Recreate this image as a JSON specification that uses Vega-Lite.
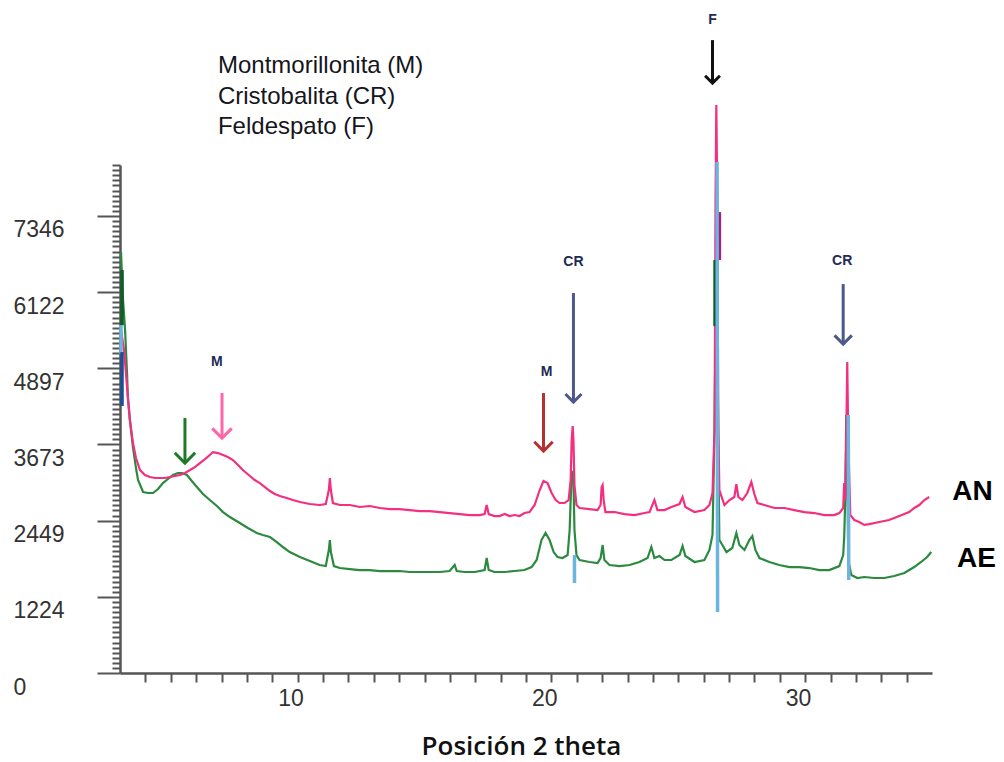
{
  "$schema": "https://vega.github.io/schema/vega-lite/v6.json",
  "width": 812,
  "height": 508,
  "autosize": "none",
  "padding": {"left": 120, "top": 165, "right": 72, "bottom": 89},
  "background": "white",
  "config": {"view": {"stroke": null}},
  "datasets": {
    "ae": [{"x":3.04,"y":6765},{"x":3.12,"y":5994},{"x":3.2,"y":5512},{"x":3.28,"y":4789},{"x":3.31,"y":4435},{"x":3.39,"y":4066},{"x":3.51,"y":3632},{"x":3.63,"y":3294},{"x":3.71,"y":3102},{"x":3.91,"y":2909},{"x":4.1,"y":2893},{"x":4.3,"y":2893},{"x":4.5,"y":2957},{"x":4.69,"y":3053},{"x":4.89,"y":3118},{"x":5.09,"y":3182},{"x":5.28,"y":3214},{"x":5.44,"y":3214},{"x":5.64,"y":3182},{"x":5.83,"y":3085},{"x":6.03,"y":2989},{"x":6.27,"y":2877},{"x":6.54,"y":2780},{"x":6.82,"y":2684},{"x":7.06,"y":2587},{"x":7.33,"y":2507},{"x":7.72,"y":2411},{"x":8.04,"y":2330},{"x":8.39,"y":2250},{"x":8.63,"y":2218},{"x":8.91,"y":2186},{"x":9.18,"y":2105},{"x":9.42,"y":2025},{"x":9.69,"y":1944},{"x":10.09,"y":1864},{"x":10.48,"y":1800},{"x":10.87,"y":1736},{"x":11.11,"y":1719},{"x":11.23,"y":1977},{"x":11.27,"y":2137},{"x":11.31,"y":1944},{"x":11.43,"y":1719},{"x":11.66,"y":1687},{"x":12.06,"y":1671},{"x":12.45,"y":1655},{"x":12.84,"y":1655},{"x":13.24,"y":1639},{"x":13.63,"y":1639},{"x":14.02,"y":1639},{"x":14.42,"y":1623},{"x":14.81,"y":1623},{"x":15.2,"y":1623},{"x":15.6,"y":1623},{"x":15.99,"y":1639},{"x":16.19,"y":1736},{"x":16.27,"y":1639},{"x":16.58,"y":1623},{"x":16.98,"y":1623},{"x":17.37,"y":1655},{"x":17.45,"y":1848},{"x":17.53,"y":1655},{"x":17.76,"y":1623},{"x":18.16,"y":1623},{"x":18.55,"y":1639},{"x":18.94,"y":1655},{"x":19.22,"y":1703},{"x":19.42,"y":1816},{"x":19.61,"y":2137},{"x":19.77,"y":2250},{"x":19.93,"y":2137},{"x":20.09,"y":1944},{"x":20.24,"y":1864},{"x":20.44,"y":1848},{"x":20.64,"y":1896},{"x":20.72,"y":2298},{"x":20.76,"y":2780},{"x":20.8,"y":3214},{"x":20.84,"y":3230},{"x":20.87,"y":3102},{"x":20.91,"y":2298},{"x":20.99,"y":1896},{"x":21.11,"y":1816},{"x":21.5,"y":1784},{"x":21.82,"y":1768},{"x":21.94,"y":1848},{"x":22.02,"y":2057},{"x":22.09,"y":1816},{"x":22.29,"y":1736},{"x":22.69,"y":1719},{"x":23.08,"y":1736},{"x":23.47,"y":1784},{"x":23.79,"y":1848},{"x":23.94,"y":2025},{"x":24.06,"y":1848},{"x":24.26,"y":1880},{"x":24.46,"y":1816},{"x":24.73,"y":1816},{"x":25.05,"y":1896},{"x":25.17,"y":2041},{"x":25.28,"y":1880},{"x":25.64,"y":1784},{"x":26.03,"y":1816},{"x":26.23,"y":1977},{"x":26.35,"y":2218},{"x":26.43,"y":3905},{"x":26.47,"y":5673},{"x":26.5,"y":6637},{"x":26.54,"y":5512},{"x":26.58,"y":3584},{"x":26.62,"y":2137},{"x":26.74,"y":2057},{"x":26.9,"y":1944},{"x":27.13,"y":2009},{"x":27.29,"y":2250},{"x":27.41,"y":2057},{"x":27.61,"y":1977},{"x":27.8,"y":2137},{"x":27.92,"y":2202},{"x":28.04,"y":1977},{"x":28.2,"y":1848},{"x":28.59,"y":1784},{"x":28.98,"y":1736},{"x":29.38,"y":1703},{"x":29.77,"y":1703},{"x":30.17,"y":1687},{"x":30.56,"y":1655},{"x":30.95,"y":1655},{"x":31.35,"y":1719},{"x":31.5,"y":1896},{"x":31.54,"y":2186},{"x":31.58,"y":2780},{"x":31.62,"y":4146},{"x":31.66,"y":3423},{"x":31.7,"y":1816},{"x":31.82,"y":1575},{"x":32.06,"y":1527},{"x":32.33,"y":1543},{"x":32.72,"y":1527},{"x":33.12,"y":1527},{"x":33.51,"y":1559},{"x":33.91,"y":1607},{"x":34.3,"y":1703},{"x":34.57,"y":1784},{"x":34.81,"y":1864},{"x":34.97,"y":1944}],
    "an": [{"x":3.04,"y":5512},{"x":3.16,"y":5191},{"x":3.24,"y":4789},{"x":3.31,"y":4435},{"x":3.39,"y":4066},{"x":3.51,"y":3696},{"x":3.63,"y":3455},{"x":3.79,"y":3262},{"x":3.98,"y":3182},{"x":4.18,"y":3150},{"x":4.38,"y":3134},{"x":4.57,"y":3134},{"x":4.77,"y":3134},{"x":4.97,"y":3150},{"x":5.17,"y":3166},{"x":5.36,"y":3182},{"x":5.56,"y":3214},{"x":5.76,"y":3262},{"x":5.95,"y":3310},{"x":6.15,"y":3375},{"x":6.35,"y":3439},{"x":6.54,"y":3503},{"x":6.66,"y":3551},{"x":6.86,"y":3535},{"x":7.06,"y":3503},{"x":7.25,"y":3471},{"x":7.45,"y":3423},{"x":7.65,"y":3343},{"x":7.84,"y":3262},{"x":8.12,"y":3166},{"x":8.31,"y":3102},{"x":8.51,"y":3053},{"x":8.71,"y":2989},{"x":8.91,"y":2925},{"x":9.1,"y":2877},{"x":9.3,"y":2844},{"x":9.57,"y":2812},{"x":9.81,"y":2780},{"x":10.09,"y":2748},{"x":10.48,"y":2716},{"x":10.87,"y":2700},{"x":11.11,"y":2716},{"x":11.23,"y":2941},{"x":11.27,"y":3134},{"x":11.31,"y":2941},{"x":11.39,"y":2732},{"x":11.66,"y":2700},{"x":12.06,"y":2700},{"x":12.45,"y":2668},{"x":12.84,"y":2684},{"x":13.24,"y":2652},{"x":13.63,"y":2635},{"x":14.02,"y":2635},{"x":14.42,"y":2619},{"x":14.81,"y":2603},{"x":15.2,"y":2603},{"x":15.6,"y":2587},{"x":15.99,"y":2571},{"x":16.39,"y":2555},{"x":16.78,"y":2539},{"x":17.17,"y":2539},{"x":17.37,"y":2555},{"x":17.45,"y":2700},{"x":17.53,"y":2555},{"x":17.76,"y":2523},{"x":17.96,"y":2523},{"x":18.16,"y":2555},{"x":18.35,"y":2523},{"x":18.55,"y":2539},{"x":18.75,"y":2523},{"x":18.94,"y":2571},{"x":19.14,"y":2587},{"x":19.34,"y":2700},{"x":19.54,"y":2941},{"x":19.69,"y":3085},{"x":19.85,"y":3053},{"x":20.01,"y":2893},{"x":20.17,"y":2780},{"x":20.32,"y":2732},{"x":20.52,"y":2732},{"x":20.68,"y":2780},{"x":20.76,"y":3102},{"x":20.8,"y":3744},{"x":20.84,"y":3969},{"x":20.87,"y":3744},{"x":20.91,"y":3021},{"x":20.99,"y":2700},{"x":21.11,"y":2652},{"x":21.5,"y":2635},{"x":21.82,"y":2619},{"x":21.94,"y":2700},{"x":21.98,"y":2989},{"x":22.02,"y":3021},{"x":22.06,"y":2780},{"x":22.13,"y":2587},{"x":22.49,"y":2587},{"x":22.88,"y":2555},{"x":23.28,"y":2539},{"x":23.67,"y":2571},{"x":23.87,"y":2587},{"x":24.06,"y":2780},{"x":24.18,"y":2619},{"x":24.46,"y":2619},{"x":24.73,"y":2668},{"x":25.05,"y":2716},{"x":25.17,"y":2828},{"x":25.28,"y":2668},{"x":25.64,"y":2587},{"x":26.03,"y":2619},{"x":26.23,"y":2700},{"x":26.35,"y":2893},{"x":26.43,"y":3905},{"x":26.47,"y":7601},{"x":26.5,"y":9128},{"x":26.54,"y":7601},{"x":26.58,"y":3905},{"x":26.62,"y":2941},{"x":26.7,"y":2844},{"x":26.82,"y":2700},{"x":27.02,"y":2780},{"x":27.21,"y":2828},{"x":27.29,"y":3037},{"x":27.37,"y":2828},{"x":27.53,"y":2780},{"x":27.72,"y":2893},{"x":27.88,"y":3069},{"x":28.0,"y":2877},{"x":28.12,"y":2732},{"x":28.39,"y":2700},{"x":28.79,"y":2652},{"x":29.18,"y":2652},{"x":29.57,"y":2619},{"x":29.97,"y":2587},{"x":30.36,"y":2571},{"x":30.76,"y":2539},{"x":31.15,"y":2539},{"x":31.35,"y":2571},{"x":31.5,"y":2652},{"x":31.54,"y":3053},{"x":31.58,"y":2780},{"x":31.62,"y":3744},{"x":31.66,"y":4998},{"x":31.7,"y":3744},{"x":31.78,"y":2539},{"x":31.94,"y":2459},{"x":32.13,"y":2427},{"x":32.33,"y":2380},{"x":32.53,"y":2394},{"x":32.92,"y":2427},{"x":33.31,"y":2459},{"x":33.71,"y":2523},{"x":34.1,"y":2587},{"x":34.3,"y":2652},{"x":34.5,"y":2700},{"x":34.7,"y":2780},{"x":34.89,"y":2828}],
    "overlay": [
      {"k":"DG","seg":"f3","x":26.45,"y":6637},{"k":"DG","seg":"f3","x":26.45,"y":5576},
      {"k":"DP","seg":"f2","x":26.62,"y":7408},{"k":"DP","seg":"f2","x":26.62,"y":6637},
      {"k":"LB","seg":"f","x":26.53,"y":8212},{"k":"LB","seg":"f","x":26.55,"y":980},
      {"k":"LB","seg":"c2","x":31.7,"y":4146},{"k":"LB","seg":"c2","x":31.72,"y":1495},
      {"k":"LB","seg":"c1","x":20.91,"y":1896},{"k":"LB","seg":"c1","x":20.91,"y":1446},
      {"k":"LB","seg":"s","x":3.04,"y":5592},{"k":"LB","seg":"s","x":3.04,"y":5126},
      {"k":"DB","seg":"s2","x":3.08,"y":5158},{"k":"DB","seg":"s2","x":3.08,"y":4291},
      {"k":"DG","seg":"s3","x":3.08,"y":6476},{"k":"DG","seg":"s3","x":3.08,"y":5592}
    ],
    "arrows": [
      {"k":"F","x":26.35,"y":10172,"y2":9481},
      {"k":"CR1","x":20.87,"y":6107,"y2":4355},
      {"k":"CR2","x":31.5,"y":6251,"y2":5287},
      {"k":"M20","x":19.69,"y":4500,"y2":3568},
      {"k":"M7","x":7.02,"y":4500,"y2":3776},
      {"k":"G6","x":5.56,"y":4098,"y2":3375}
    ],
    "peaklabels": [
      {"t":"F","x":26.35,"y":10494},
      {"t":"CR","x":20.87,"y":6605},
      {"t":"CR","x":31.46,"y":6621},
      {"t":"M","x":19.81,"y":4837},
      {"t":"M","x":6.82,"y":4998}
    ],
    "legend": [
      {"t":"Montmorillonita (M)","x":6.86,"y":9754},
      {"t":"Cristobalita (CR)","x":6.86,"y":9256},
      {"t":"Feldespato (F)","x":6.86,"y":8774}
    ],
    "samples": [
      {"t":"AN","x":35.8,"y":2909},
      {"t":"AE","x":35.99,"y":1832}
    ]
  },
  "encoding": {
    "x": {
      "field": "x", "type": "quantitative",
      "scale": {"domain": [3, 35], "nice": false, "zero": false},
      "axis": {
        "title": "Posición 2 theta",
        "values": [4,5,6,7,8,9,10,11,12,13,14,15,16,17,18,19,20,21,22,23,24,25,26,27,28,29,30,31,32,33,34],
        "labelExpr": "datum.value % 10 === 0 ? datum.label : ''",
        "grid": false,
        "domainColor": "#555555", "domainWidth": 2.5,
        "tickColor": "#555555", "tickWidth": 2, "tickSize": 9,
        "labelFont": "Liberation Sans", "labelFontSize": 23, "labelColor": "#333333",
        "labelPadding": 5, "labelOffset": -7, "labelOverlap": false, "labelFlush": false,
        "titleFont": "Open Sans", "titleFontSize": 26, "titleFontWeight": 600, "titleColor": "#111111",
        "titleX": 401, "titleY": 81, "titleBaseline": "alphabetic", "titleAlign": "center"
      }
    },
    "y": {
      "field": "y", "type": "quantitative",
      "scale": {"domain": [0, 8165], "nice": false, "zero": true},
      "axis": {
        "title": null,
        "values": {"expr": "sequence(0, 8166, 81.62222)"},
        "labelExpr": "abs(datum.value/1224.3333 - round(datum.value/1224.3333)) < 0.01 ? format(datum.value, '.0f') : ''",
        "tickSize": {"condition": {"test": "abs(datum.value/1224.3333 - round(datum.value/1224.3333)) < 0.01", "value": 23}, "value": 8},
        "grid": false,
        "domainColor": "#555555", "domainWidth": 2.5,
        "tickColor": "#555555", "tickWidth": 2,
        "labelFont": "Liberation Sans", "labelFontSize": 23, "labelColor": "#333333",
        "labelAlign": "left", "labelPadding": 84, "labelOffset": 14, "labelOverlap": false, "labelFlush": false
      }
    }
  },
  "layer": [
    {"data": {"name": "ae"}, "mark": {"type": "line", "color": "#2b8a3e", "strokeWidth": 2.2}},
    {"data": {"name": "an"}, "mark": {"type": "line", "color": "#f2307f", "strokeWidth": 2.2}},
    {
      "data": {"name": "overlay"},
      "mark": {"type": "line", "strokeWidth": 3.5},
      "encoding": {
        "detail": {"field": "seg", "type": "nominal"},
        "color": {"field": "k", "type": "nominal", "legend": null,
          "scale": {"domain": ["LB","DB","DG","DP","F","CR1","CR2","M20","M7","G6"],
                    "range": ["#6db5de","#1d4f96","#0f5e25","#b5177c","#111111","#4b5a8a","#4b5a8a","#b5302e","#ff66a8","#1f7a28"]}}
      }
    },
    {
      "data": {"name": "arrows"},
      "mark": {"type": "rule", "strokeWidth": 3},
      "encoding": {
        "y2": {"field": "y2"},
        "color": {"field": "k", "type": "nominal", "legend": null,
          "scale": {"domain": ["LB","DB","DG","DP","F","CR1","CR2","M20","M7","G6"],
                    "range": ["#6db5de","#1d4f96","#0f5e25","#b5177c","#111111","#4b5a8a","#4b5a8a","#b5302e","#ff66a8","#1f7a28"]}}
      }
    },
    {
      "data": {"name": "arrows"},
      "mark": {"type": "point", "shape": "M-1,-1L0,0L1,-1", "filled": false, "strokeWidth": 3, "opacity": 1},
      "encoding": {
        "y": {"field": "y2", "type": "quantitative"},
        "size": {"field": "k", "type": "nominal", "legend": null,
          "scale": {"domain": ["F","CR1","CR2","M20","M7","G6"], "range": [220, 420, 420, 320, 200, 200]}},
        "color": {"field": "k", "type": "nominal", "legend": null,
          "scale": {"domain": ["LB","DB","DG","DP","F","CR1","CR2","M20","M7","G6"],
                    "range": ["#6db5de","#1d4f96","#0f5e25","#b5177c","#111111","#4b5a8a","#4b5a8a","#b5302e","#ff66a8","#1f7a28"]}}
      }
    },
    {
      "data": {"name": "peaklabels"},
      "mark": {"type": "text", "font": "Liberation Sans", "fontSize": 14, "fontWeight": "bold", "color": "#1d2b55", "align": "center", "baseline": "middle"},
      "encoding": {"text": {"field": "t"}}
    },
    {
      "data": {"name": "legend"},
      "mark": {"type": "text", "font": "Liberation Sans", "fontSize": 24, "color": "#151520", "align": "left", "baseline": "middle"},
      "encoding": {"text": {"field": "t"}}
    },
    {
      "data": {"name": "samples"},
      "mark": {"type": "text", "font": "Liberation Sans", "fontSize": 28, "fontWeight": "bold", "color": "#000000", "align": "left", "baseline": "middle"},
      "encoding": {"text": {"field": "t"}}
    }
  ]
}
